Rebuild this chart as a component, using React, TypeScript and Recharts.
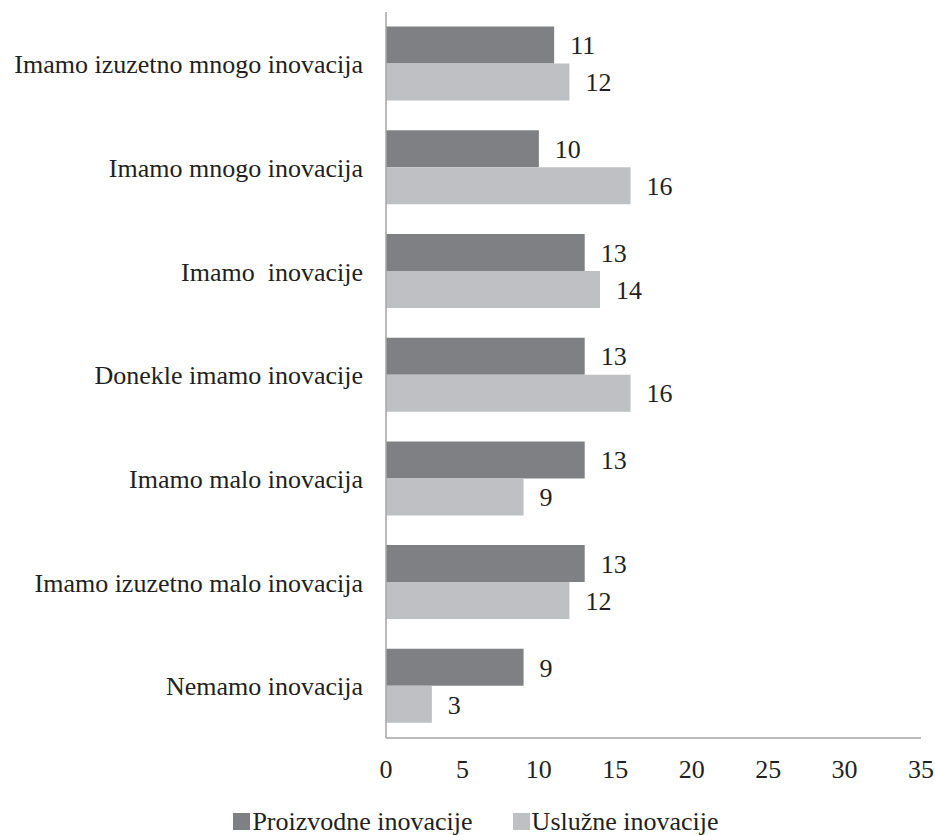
import { BarChart, Bar, XAxis, YAxis, Legend, LabelList } from "recharts";

const categories = [
  "Imamo izuzetno mnogo inovacija",
  "Imamo mnogo inovacija",
  "Imamo\u00a0 inovacije",
  "Donekle imamo inovacije",
  "Imamo malo inovacija",
  "Imamo izuzetno malo inovacija",
  "Nemamo inovacija",
];
const proizvodne = [11, 10, 13, 13, 13, 13, 9];
const usluzne = [12, 16, 14, 16, 9, 12, 3];
const xTicks = [0, 5, 10, 15, 20, 25, 30, 35];

const data = categories.map((name, i) => ({ name, proizvodne: proizvodne[i], usluzne: usluzne[i] }));

const FONT = "Liberation Serif";
const TEXT = "#231f20";
const AXIS = "#a6a6a6";

function LegendContent({ payload }: { payload?: any[] }) {
  return (
    <div style={{ textAlign: "center", paddingLeft: 31, paddingTop: 10, lineHeight: "26px", fontFamily: FONT, fontSize: 26, color: TEXT }}>
      {(payload || []).map((p, i) => (
        <span key={i} style={{ display: "inline-block", marginRight: i === 0 ? 40 : 0 }}>
          <span style={{ display: "inline-block", width: 17, height: 17, background: p.color, marginRight: 2 }} />
          {p.value}
        </span>
      ))}
    </div>
  );
}

export default function App() {
  return (
    <div style={{ fontFamily: FONT }}>
      <style>{"body{margin:0} .recharts-wrapper text{font-family:'Liberation Serif'}"}</style>
      <BarChart
        width={935}
        height={835}
        data={data}
        layout="vertical"
        margin={{ top: 12, right: 14, bottom: 0, left: 0 }}
        barCategoryGap="14%"
        barGap={0}
      >
        <XAxis
          type="number"
          domain={[0, 35]}
          ticks={xTicks}
          height={61}
          axisLine={{ stroke: AXIS, strokeWidth: 1.5 }}
          tickLine={false}
          tickSize={0}
          tickMargin={22}
          tick={{ fontSize: 26, fill: TEXT, fontFamily: FONT }}
        />
        <YAxis
          type="category"
          dataKey="name"
          width={386}
          axisLine={{ stroke: AXIS, strokeWidth: 1.5 }}
          tickLine={false}
          tickSize={0}
          tickMargin={23}
          interval={0}
          tick={{ fontSize: 26, fill: TEXT, fontFamily: FONT }}
        />
        <Legend verticalAlign="bottom" content={<LegendContent />} />
        <Bar dataKey="proizvodne" name="Proizvodne inovacije" fill="#7f8084" isAnimationActive={false}>
          <LabelList dataKey="proizvodne" position="right" offset={16} fontSize={26} fill={TEXT} fontFamily={FONT} />
        </Bar>
        <Bar dataKey="usluzne" name="Uslužne inovacije" fill="#bfc0c3" isAnimationActive={false}>
          <LabelList dataKey="usluzne" position="right" offset={16} fontSize={26} fill={TEXT} fontFamily={FONT} />
        </Bar>
      </BarChart>
    </div>
  );
}
